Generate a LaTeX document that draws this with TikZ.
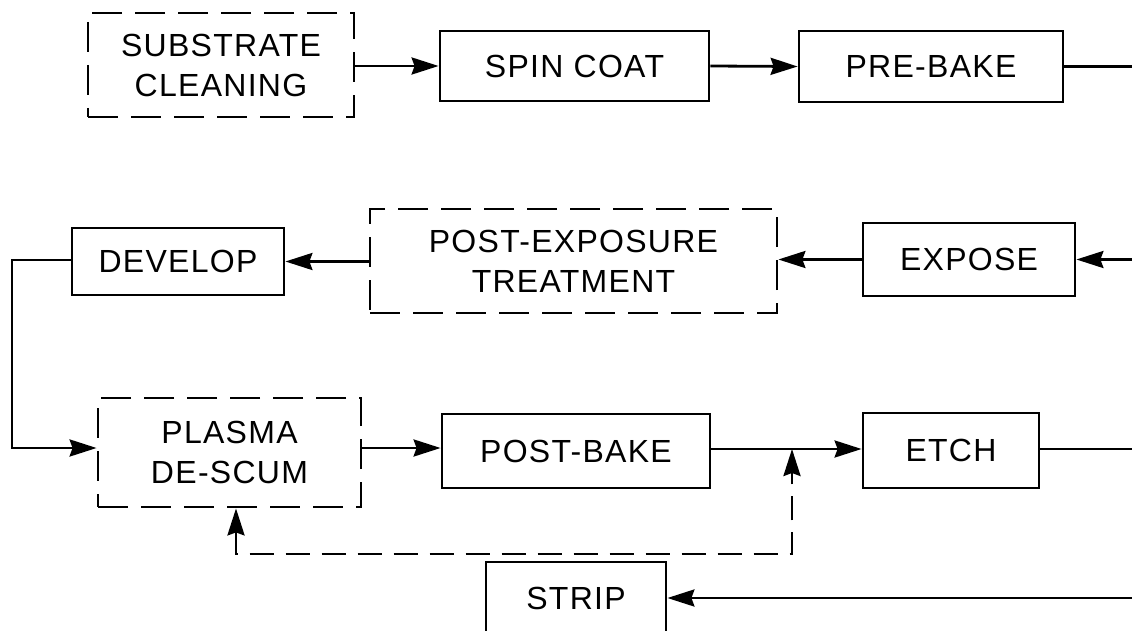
\documentclass[tikz,border=0pt]{standalone}
\usepackage{fontspec}
\setmainfont[LetterSpace=4]{Liberation Sans}
\usetikzlibrary{arrows.meta}
\begin{document}
\begin{tikzpicture}[x=1pt,y=-1pt,
  tip/.style={-{Stealth[length=27pt,width=17pt,inset=3pt]}},
  box/.style={draw, line width=2.8pt, inner sep=0pt, align=center,
    font=\fontsize{32}{40}\selectfont},
  dbox/.style={box, dash pattern=on 30pt off 13pt},
  ln/.style={line width=2.8pt},
  arr/.style={line width=2.8pt, -{Stealth[length=27pt,width=17pt,inset=3pt]}},
  fb/.style={line width=2.8pt, dash pattern=on 24pt off 12pt,
    {Stealth[length=27pt,width=17pt,inset=3pt]}-{Stealth[length=27pt,width=17pt,inset=3pt]}}
]
\useasboundingbox (0,0) rectangle (1132,631);
% row 1
\node[dbox, minimum width=266pt, minimum height=104pt] (sub) at (221,65) {SUBSTRATE\\CLEANING};
\node[box, minimum width=269pt, minimum height=70pt] (spin) at (574.5,66) {SPIN COAT};
\node[box, minimum width=264pt, minimum height=71pt] (pre) at (931,66.5) {PRE-BAKE};
% row 2
\node[box, minimum width=212pt, minimum height=73pt] (expose) at (969,259.5) {EXPOSE};
\node[dbox, minimum width=407pt, minimum height=104pt] (pet) at (573.5,261) {POST-EXPOSURE\\TREATMENT};
\node[box, minimum width=212pt, minimum height=67pt] (dev) at (178,261.5) {DEVELOP};
% row 3
\node[dbox, minimum width=263pt, minimum height=109pt] (plasma) at (229.5,452.5) {PLASMA\\DE-SCUM};
\node[box, minimum width=268pt, minimum height=74pt] (pb) at (576,451) {POST-BAKE};
\node[box, minimum width=176pt, minimum height=75pt] (etch) at (951,450.5) {ETCH};
\node[box, minimum width=180pt, minimum height=72pt] (strip) at (576,598) {STRIP};
% coordinates
\coordinate (r1) at (1132,66.5);
\coordinate (r2) at (1132,259.5);
\coordinate (r3) at (1132,449);
\coordinate (r4) at (1132,598);
\coordinate (l1) at (12,260);
\coordinate (l2) at (12,448);
\coordinate (j) at (792,449);
\coordinate (fb1) at (236,554);
\coordinate (fb2) at (792,554);
% connectors
\draw[arr] (sub.east |- spin.west) -- (spin.west);
\draw[arr] (spin.east) -- (pre.west);
\draw[ln] (pre.east) -- (r1);
\draw[arr] (r2) -- (expose.east);
\draw[arr] (expose.west) -- (expose.west -| pet.east);
\draw[arr] (pet.west |- dev.east) -- (dev.east);
\draw[arr] (dev.west |- l1) -- (l1) -- (l2) -- (l2 -| plasma.west);
\draw[arr] (plasma.east |- l2) -- (l2 -| pb.west);
\draw[arr] (pb.east |- j) -- (j -| etch.west);
\draw[ln] (etch.east |- r3) -- (r3);
\draw[arr] (r4) -- (strip.east);
\draw[fb] (fb1 |- plasma.south) -- (fb1) -- (fb2) -- (j);
\end{tikzpicture}
\end{document}
